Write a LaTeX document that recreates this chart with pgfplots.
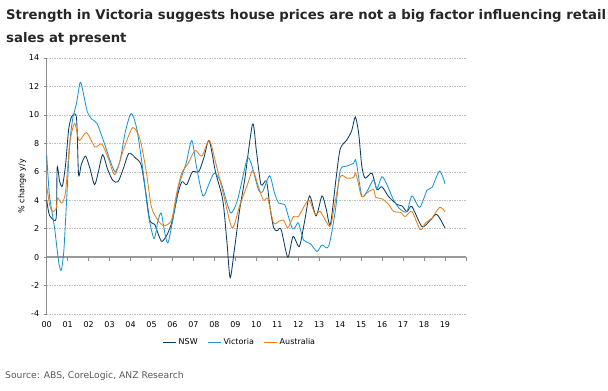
\documentclass[border=0pt]{standalone}
\usepackage{fontspec}
\setmainfont{DejaVu Sans}
\usepackage{pgfplots}
\pgfplotsset{compat=1.18}
\definecolor{nsw}{HTML}{0B3D62}
\definecolor{vic}{HTML}{1B95D2}
\definecolor{aus}{HTML}{E5801C}
\definecolor{gridc}{HTML}{BFBFBF}
\definecolor{axc}{HTML}{8C8C8C}
\begin{document}
\begin{tikzpicture}
\useasboundingbox (0pt,0pt) rectangle (608pt,391pt);
\node[anchor=base west, inner sep=0pt, font=\bfseries\fontsize{13.25}{15}\selectfont, text=black!85] at (6pt,371pt) {Strength in Victoria suggests house prices are not a big factor influencing retail};
\node[anchor=base west, inner sep=0pt, font=\bfseries\fontsize{13.25}{15}\selectfont, text=black!85] at (6pt,348pt) {sales at present};
\node[anchor=base west, inner sep=0pt, font=\fontsize{9.2}{11}\selectfont, text=black!65] at (5pt,12.5pt) {Source: ABS, CoreLogic, ANZ Research};
\begin{axis}[
  at={(46.7pt,77pt)}, anchor=south west, scale only axis,
  width=419.3pt, height=256pt,
  xmin=2000, xmax=2020, ymin=-4, ymax=14,
  ytick={-4,-2,...,14},
  xtick={2000,...,2019},
  xticklabels={00,01,02,03,04,05,06,07,08,09,10,11,12,13,14,15,16,17,18,19},
  axis y line*=left, axis x line*=bottom,
  x axis line style={draw=none},
  y axis line style={draw=axc, line width=0.8pt},
  xtick style={draw=none},
  ytick style={draw=axc, line width=0.6pt},
  tick align=outside, major tick length=3pt,
  ymajorgrids,
  major grid style={draw=gridc, line width=0.5pt, dash pattern=on 1.5pt off 1pt},
  tick label style={font=\fontsize{8}{9}\selectfont},
  /pgf/number format/assume math mode=true,
  yticklabel style={xshift=-1pt},
  xticklabel style={yshift=-1pt},
  ylabel={\% change y/y},
  ylabel style={font=\fontsize{8}{9}\selectfont, yshift=-4pt},
  legend columns=3,
  legend style={at={(0.461,0)}, anchor=center, yshift=-28pt, draw=none, fill=none,
    font=\fontsize{8}{9}\selectfont, inner sep=0pt,
    /tikz/every even column/.append style={column sep=8pt}},
  legend image code/.code={\draw[#1] (0pt,0pt) -- (13pt,0pt);},
  every axis plot/.append style={line width=0.85pt, smooth, tension=0.45},
  clip=false,
]
\draw[draw=gridc!80!black, line width=1.6pt] (axis cs:2000,0) -- (axis cs:2020,0);
\pgfplotsinvokeforeach{2001,...,2020}{\draw[draw=axc, line width=0.6pt] (axis cs:#1,0) -- ++(0pt,-4pt);}
\addplot[nsw] coordinates {
(2000.00,4.0) (2000.10,3.1) (2000.20,2.8) (2000.45,2.75) (2000.50,6.3) (2000.62,5.3) (2000.75,5.0)
(2000.90,6.5) (2001.05,9.0) (2001.20,9.9) (2001.42,9.8) (2001.52,5.8) (2001.65,6.5) (2001.85,7.1)
(2002.05,6.3) (2002.28,5.1) (2002.45,5.9) (2002.67,7.2) (2002.90,6.2) (2003.15,5.4) (2003.40,5.3)
(2003.65,6.2) (2003.92,7.3) (2004.25,6.95) (2004.50,6.5) (2004.70,4.8) (2004.92,2.6) (2005.15,2.3)
(2005.35,1.5) (2005.50,1.1) (2005.75,1.6) (2006.00,2.6) (2006.25,4.4) (2006.45,5.3) (2006.68,5.1)
(2006.95,6.0) (2007.25,6.0) (2007.50,7.0) (2007.75,8.2) (2008.05,6.0) (2008.40,4.0) (2008.60,1.0)
(2008.75,-1.45) (2008.95,0.5) (2009.20,3.3) (2009.45,5.5) (2009.82,9.35) (2010.00,7.5) (2010.22,5.1)
(2010.48,5.35) (2010.65,3.5) (2010.82,2.1) (2010.98,1.85) (2011.18,1.95) (2011.50,0.0) (2011.75,1.45)
(2012.05,0.75) (2012.30,2.5) (2012.54,4.3) (2012.85,2.9) (2013.13,4.3) (2013.33,3.4) (2013.53,2.3)
(2013.80,5.5) (2014.00,7.6) (2014.32,8.25) (2014.55,8.9) (2014.72,9.85) (2014.88,8.7) (2015.03,6.4)
(2015.19,5.55) (2015.51,5.9) (2015.75,4.75) (2015.99,4.95) (2016.31,4.25) (2016.71,3.7) (2016.95,3.6)
(2017.18,3.2) (2017.42,3.55) (2017.90,2.15) (2018.30,2.6) (2018.55,3.0) (2018.70,2.85) (2019.00,2.05)
};
\addlegendentry{NSW}
\addplot[vic] coordinates {
(2000.00,7.2) (2000.12,4.5) (2000.25,3.2) (2000.38,2.0) (2000.50,0.5) (2000.60,-0.6) (2000.70,-0.9)
(2000.82,0.5) (2000.95,4.0) (2001.10,8.0) (2001.25,9.8) (2001.42,10.8) (2001.60,12.3) (2001.75,11.5)
(2001.94,10.2) (2002.15,9.7) (2002.40,9.4) (2002.75,8.0) (2003.00,6.9) (2003.26,6.0) (2003.50,6.8)
(2003.75,8.8) (2004.03,10.1) (2004.30,9.0) (2004.60,6.0) (2004.85,3.0) (2005.12,1.3) (2005.30,2.5)
(2005.46,3.1) (2005.62,1.8) (2005.78,1.0) (2006.00,2.5) (2006.30,5.0) (2006.65,6.6) (2006.92,8.2)
(2007.15,6.3) (2007.45,4.3) (2007.70,5.0) (2007.99,5.9) (2008.30,5.3) (2008.60,3.8) (2008.80,3.1)
(2009.10,4.0) (2009.55,6.85) (2009.75,6.6) (2010.10,4.75) (2010.30,4.6) (2010.63,5.72) (2010.85,4.6)
(2011.06,3.8) (2011.35,3.7) (2011.50,3.0) (2011.72,2.0) (2011.85,2.1) (2012.01,2.4) (2012.25,1.2)
(2012.57,0.95) (2012.89,0.4) (2013.13,0.85) (2013.45,0.75) (2013.77,3.3) (2014.00,6.1) (2014.32,6.4)
(2014.64,6.6) (2014.72,6.85) (2014.80,6.4) (2015.03,4.3) (2015.27,4.6) (2015.59,5.45) (2015.75,4.8)
(2015.99,5.65) (2016.23,5.1) (2016.55,4.0) (2016.87,3.35) (2017.18,3.2) (2017.42,4.3) (2017.79,3.5)
(2018.14,4.7) (2018.38,4.9) (2018.74,6.05) (2019.00,5.15)
};
\addlegendentry{Victoria}
\addplot[aus] coordinates {
(2000.00,5.0) (2000.15,3.6) (2000.30,3.2) (2000.45,3.4) (2000.52,4.15) (2000.72,3.8) (2000.90,4.6)
(2001.10,8.0) (2001.33,9.4) (2001.55,8.2) (2001.90,8.75) (2002.30,7.75) (2002.63,7.95) (2002.95,6.9)
(2003.26,5.8) (2003.65,7.5) (2004.10,9.1) (2004.45,8.3) (2004.75,6.0) (2005.00,3.5) (2005.35,2.5)
(2005.60,2.2) (2005.95,2.6) (2006.20,4.5) (2006.44,5.9) (2006.75,6.6) (2007.08,7.5) (2007.40,7.1)
(2007.76,8.2) (2008.10,6.4) (2008.45,4.3) (2008.85,2.05) (2009.20,3.6) (2009.60,5.2) (2009.83,6.1)
(2010.10,4.95) (2010.34,4.0) (2010.55,4.1) (2010.82,2.4) (2011.06,2.5) (2011.30,2.6) (2011.50,2.05)
(2011.77,2.85) (2012.00,2.85) (2012.49,4.0) (2012.81,3.0) (2013.05,3.2) (2013.50,2.15) (2013.69,3.3)
(2014.00,5.65) (2014.32,5.55) (2014.64,5.6) (2014.72,5.95) (2014.83,5.4) (2015.03,4.25) (2015.35,4.6)
(2015.59,4.75) (2015.70,4.2) (2015.99,4.1) (2016.31,3.7) (2016.55,3.2) (2016.87,3.15) (2017.10,2.85)
(2017.42,3.2) (2017.82,1.92) (2018.06,2.4) (2018.38,2.75) (2018.74,3.5) (2019.00,3.2)
};
\addlegendentry{Australia}
\end{axis}
\end{tikzpicture}
\end{document}
